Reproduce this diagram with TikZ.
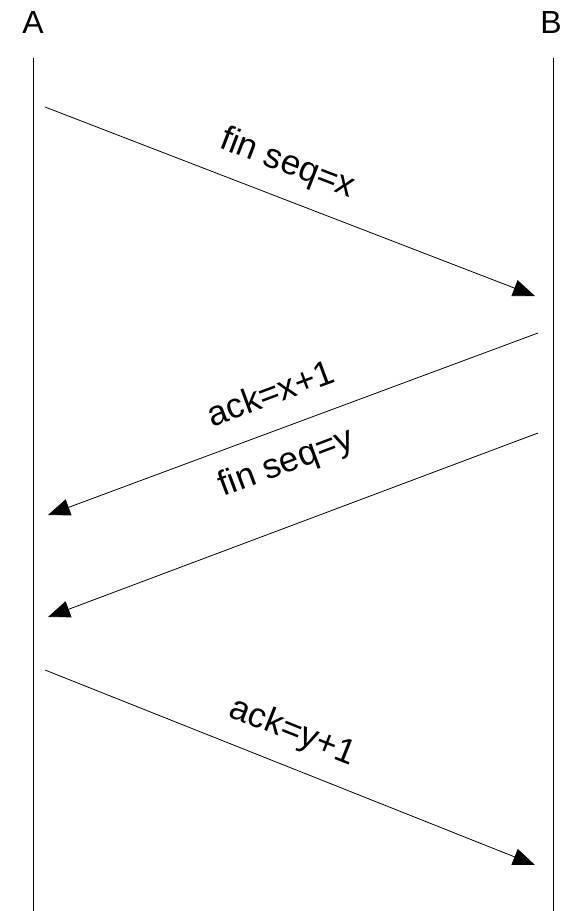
\documentclass[tikz,border=0pt]{standalone}
\usepackage{fontspec}
\setmainfont{Liberation Sans}
\usetikzlibrary{arrows.meta}
\tikzstyle{party} = [font=\fontsize{32}{32}\selectfont, inner sep=0pt]
\tikzstyle{lifeline} = [line width=1pt]
\tikzstyle{msg} = [line width=0.8pt, -{Triangle[length=22pt,width=17pt]}]
\tikzstyle{msglabel} = [font=\fontsize{35}{35}\selectfont, sloped, above=22pt, inner sep=0pt, text height=0.75em, text depth=0.22em]

\begin{document}
\begin{tikzpicture}[x=1pt, y=-1pt]
    \useasboundingbox (0,0) rectangle (566,911);
    \node (A) [party] at (33,22) {A};
    \node (B) [party] at (551,22) {B};
    \coordinate (Atop) at (33,58);
    \coordinate (Abot) at (33,911);
    \coordinate (Btop) at (553,58);
    \coordinate (Bbot) at (553,911);
    \draw [lifeline] (Atop) -- (Abot);
    \draw [lifeline] (Btop) -- (Bbot);

    % message ends
    \coordinate (a1) at (45,107);
    \coordinate (b1) at (535,296);
    \coordinate (b2) at (538,333);
    \coordinate (a2) at (48,515);
    \coordinate (b3) at (538,433);
    \coordinate (a3) at (48,617);
    \coordinate (a4) at (45,670);
    \coordinate (b4) at (535,865);

    \draw [msg] (a1) -- node [msglabel, pos=0.47] {fin seq=x} (b1);
    \draw [msg] (b2) -- node [msglabel, pos=0.52] {ack=x+1} (a2);
    \draw [msg] (b3) -- node [msglabel, pos=0.47, above=26pt] {fin seq=y} (a3);
    \draw [msg] (a4) -- node [msglabel, pos=0.48] {ack=y+1} (b4);
\end{tikzpicture}
\end{document}
